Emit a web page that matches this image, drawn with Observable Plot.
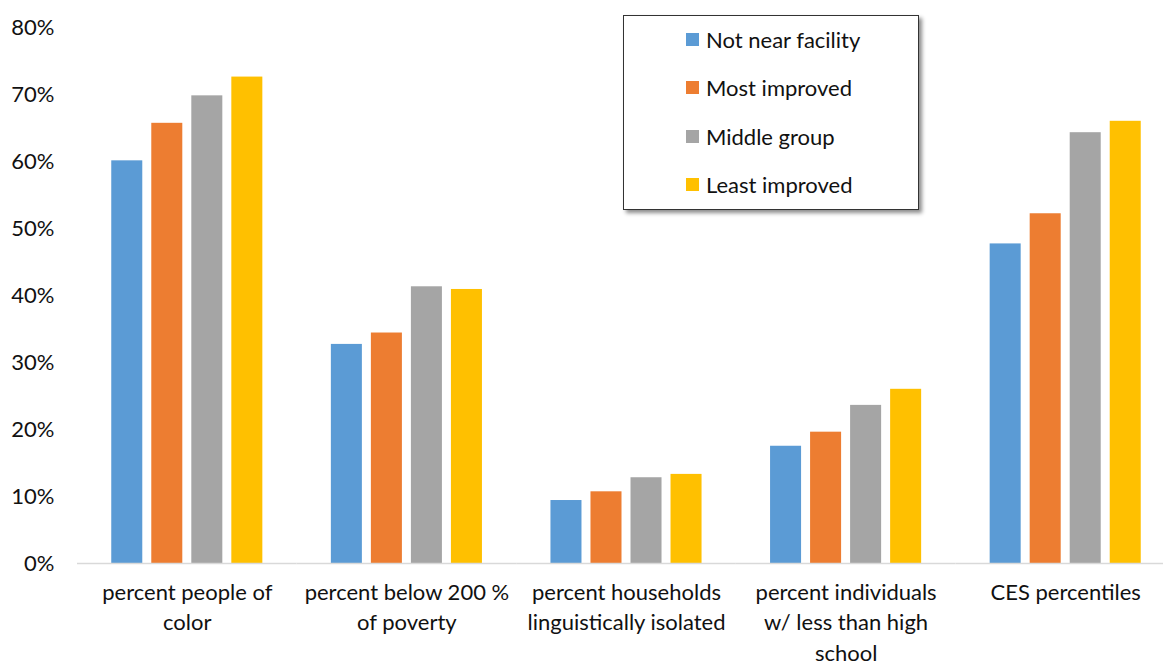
<!DOCTYPE html>
<html>
<head>
<meta charset="utf-8">
<script src="https://cdn.jsdelivr.net/npm/d3@7"></script>
<script src="https://cdn.jsdelivr.net/npm/@observablehq/plot@0.6"></script>
<style>
  html, body { margin: 0; padding: 0; background: #fff; }
  #wrap { position: relative; width: 1163px; height: 663px; overflow: hidden; font-family: Lato, "Open Sans", sans-serif; }
  #legend { position: absolute; left: 623px; top: 15px; width: 294px; height: 193px; border: 1px solid #333; background: #fff; box-shadow: 3px 3px 4px rgba(0,0,0,0.45); }
  .item { position: absolute; left: 62px; height: 24px; display: flex; align-items: center; font-size: 22px; color: #111; }
  .sw { width: 13px; height: 13px; margin-right: 7px; }
</style>
</head>
<body>
<div id="wrap"></div>
<script>
// Indicator groups (axis labels use line breaks as in the printed figure)
const categories = [
  "percent people of\ncolor",
  "percent below 200 %\nof poverty",
  "percent households\nlinguistically isolated",
  "percent individuals\nw/ less than high\nschool",
  "CES percentiles"
];
const seriesNames = ["Not near facility", "Most improved", "Middle group", "Least improved"];
const seriesColors = ["#5B9BD5", "#ED7D31", "#A5A5A5", "#FFC000"];

// Percent values per series, in category order
const notNearFacility = [60.1, 32.7, 9.4, 17.5, 47.7];
const mostImproved    = [65.7, 34.4, 10.7, 19.6, 52.2];
const middleGroup     = [69.8, 41.3, 12.8, 23.6, 64.3];
const leastImproved   = [72.6, 40.9, 13.3, 26.0, 66.0];

const yTicks = [0, 10, 20, 30, 40, 50, 60, 70, 80];

const seriesValues = [notNearFacility, mostImproved, middleGroup, leastImproved];
const rows = [];
categories.forEach((c, i) => {
  seriesNames.forEach((s, j) => rows.push({category: c, series: s, value: seriesValues[j][i]}));
});

const font = "Lato, 'Open Sans', sans-serif";

const chart = Plot.plot({
  width: 1163,
  height: 663,
  marginTop: 27,
  marginBottom: 100,
  marginLeft: 77,
  marginRight: -12,
  style: {fontFamily: font, fontSize: "22px", color: "#111", background: "#fff"},
  fx: {domain: categories, padding: 0, round: false, label: null},
  x: {domain: seriesNames, paddingInner: 0.225, paddingOuter: 0.856, round: false, axis: null},
  y: {domain: [0, 80], label: null},
  color: {domain: seriesNames, range: seriesColors},
  marks: [
    Plot.axisY({ticks: yTicks, tickFormat: d => d + "%", tickSize: 0, tickPadding: 23, label: null, fontSize: 22, fill: "#111"}),
    Plot.axisFx({anchor: "bottom", tickSize: 0, tickPadding: 15, label: null, fontSize: 22, lineHeight: 1.38, fill: "#111"}),
    Plot.barY(rows, {fx: "category", x: "series", y: "value", fill: "series"}),
    Plot.ruleY([0], {stroke: "#d9d9d9", strokeWidth: 1.5})
  ]
});

const wrap = document.getElementById("wrap");
wrap.appendChild(chart);

// Boxed legend with drop shadow
const legend = document.createElement("div");
legend.id = "legend";
const rowTops = [11, 59, 108, 156];
seriesNames.forEach((name, i) => {
  const item = document.createElement("div");
  item.className = "item";
  item.style.top = rowTops[i] + "px";
  const sw = document.createElement("span");
  sw.className = "sw";
  sw.style.background = seriesColors[i];
  item.appendChild(sw);
  item.appendChild(document.createTextNode(name));
  legend.appendChild(item);
});
wrap.appendChild(legend);
</script>
</body>
</html>
